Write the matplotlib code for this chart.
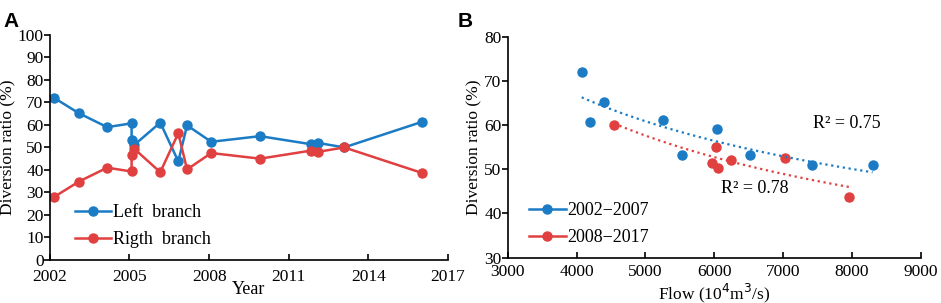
import numpy as np
import matplotlib.pyplot as plt
from matplotlib.lines import Line2D

plt.rcParams['font.family'] = ['Liberation Serif', 'DejaVu Serif']

# Panel A: diversion ratio by year
years = [2002.16, 2003.09, 2004.16, 2005.08, 2005.08, 2005.17, 2006.16, 2006.84,
         2007.17, 2008.08, 2009.92, 2011.85, 2012.1, 2013.09, 2016.01]
left_branch = [72.0, 65.2, 59.0, 60.7, 53.3, 51.0, 61.0, 43.8,
               59.8, 52.5, 55.0, 51.4, 52.0, 50.0, 61.3]
right_branch = [28.0, 34.8, 41.0, 39.3, 46.7, 49.5, 39.0, 56.3,
                40.2, 47.5, 45.0, 48.6, 48.0, 50.0, 38.7]

# Panel B: diversion ratio vs flow
flow_early = [4074, 4403, 4190, 5250, 5525, 6033, 6517, 7412, 8298]
ratio_early = [72.0, 65.2, 60.7, 61.1, 53.3, 59.1, 53.3, 50.9, 50.9]
flow_late = [4543, 6019, 5970, 6058, 6246, 7020, 7954]
ratio_late = [59.9, 55.1, 51.5, 50.3, 52.0, 52.6, 43.8]

blue = '#1b7bc4'
red = '#e0403f'

fig = plt.figure(figsize=(9.41, 3.03), dpi=100)
ax1 = fig.add_axes([0.053, 0.142, 0.423, 0.743])
ax2 = fig.add_axes([0.5396, 0.150, 0.439, 0.729])

for ax in (ax1, ax2):
    ax.spines['top'].set_visible(False)
    ax.spines['right'].set_visible(False)
    ax.spines['left'].set_linewidth(1.2)
    ax.spines['bottom'].set_linewidth(1.2)
    ax.tick_params(axis='x', direction='in', length=4, width=1.2, labelsize=12.5, pad=5)
    ax.tick_params(axis='y', direction='out', length=4, width=1.2, labelsize=12.5, pad=0.5)
ax1.tick_params(axis='x', pad=6.5)

# --- Panel A
ax1.plot(years, left_branch, '-o', color=blue, lw=1.8, ms=6.5, label='Left  branch')
ax1.plot(years, right_branch, '-o', color=red, lw=1.8, ms=6.5, label='Rigth  branch')
ax1.set_xlim(2002, 2017)
ax1.set_ylim(0, 100)
ax1.set_xticks(range(2002, 2018, 3))
ax1.set_yticks(range(0, 101, 10))
ax1.set_xlabel('Year', fontsize=13, labelpad=-3)
ax1.set_ylabel('Diversion ratio (%)', fontsize=12.5, labelpad=1)
ax1.legend(loc='lower left', bbox_to_anchor=(0.045, 0.02), frameon=False, fontsize=13,
           handlelength=2.0, handletextpad=0.1, labelspacing=0.55, borderaxespad=0)

# --- Panel B
ax2.plot(flow_early, ratio_early, 'o', color=blue, ms=6.5)
ax2.plot(flow_late, ratio_late, 'o', color=red, ms=6.5)

# power-law trend fits
for fx, fy, c in ((flow_early, ratio_early, blue), (flow_late, ratio_late, red)):
    b, a = np.polyfit(np.log(fx), np.log(fy), 1)
    xs = np.linspace(min(fx), max(fx), 100)
    ax2.plot(xs, np.exp(a) * xs ** b, ':', color=c, lw=1.6)

ax2.text(0.74, 0.585, 'R\u00b2 = 0.75', transform=ax2.transAxes, fontsize=13)
ax2.text(0.515, 0.29, 'R\u00b2 = 0.78', transform=ax2.transAxes, fontsize=13)

ax2.set_xlim(3000, 9000)
ax2.set_ylim(30, 80)
ax2.set_xticks(range(3000, 9001, 1000))
ax2.set_yticks(range(30, 81, 10))
ax2.set_xlabel('Flow (10$^4$m$^3$/s)', fontsize=12.5, labelpad=0.5)
ax2.set_ylabel('Diversion ratio (%)', fontsize=12.5, labelpad=1)

handles = [Line2D([], [], color=blue, marker='o', lw=1.8, ms=6.5),
           Line2D([], [], color=red, marker='o', lw=1.8, ms=6.5)]
ax2.legend(handles, ['2002\u22122007', '2008\u22122017'], loc='lower left',
           bbox_to_anchor=(0.035, 0.02), frameon=False, fontsize=13,
           handlelength=2.0, handletextpad=0.1, labelspacing=0.55, borderaxespad=0)

fig.text(0.004, 0.91, 'A', fontsize=15, fontweight='bold', family='Liberation Sans')
fig.text(0.486, 0.91, 'B', fontsize=15, fontweight='bold', family='Liberation Sans')

fig.savefig('out.png', dpi=100)
